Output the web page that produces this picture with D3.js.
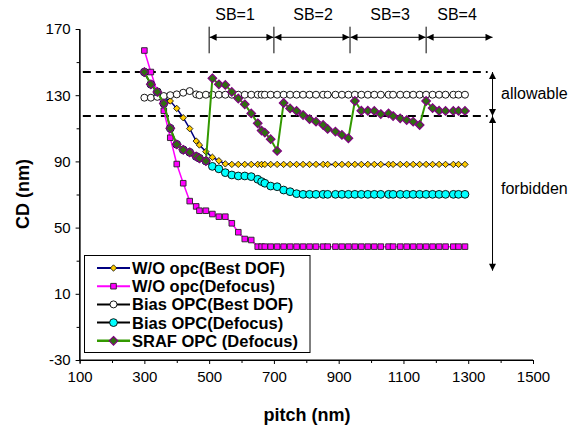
<!DOCTYPE html>
<html><head><meta charset="utf-8">
<script src="https://cdn.jsdelivr.net/npm/d3@7"></script>
<style>body{margin:0;background:#fff}svg{display:block}text{font-family:"Liberation Sans",Arial,sans-serif}</style>
</head><body>
<script>
const pitch = [300,320,340,360,380,400,420,440,460,470,490,510,530,550,570,590,610,630,650,662,672,690,710,730,750,770,790,810,830,852,866,890,910,930,950,970,990,1010,1030,1054,1068,1090,1110,1130,1150,1170,1190,1210,1230,1254,1270,1290];
const fill = (n, v) => Array(n).fill(v);
const woBest = [143,137,131,128.7,126.5,122,116.4,109.8,102.3,99.9,95.9,92.5,90.4,88.5].concat(fill(38,88.2));
const woDef = [157,144,132,120.6,104.3,88.4,76.8,66,62.8,60.2,60.2,58.2,56.6,56.6,52.6,47.2,43.1,42.5,38.5].concat(fill(33,38.5));
const biasBest = [128.5,128.5,129,129.5,130,130.5,131.5,132.5,130.5,130].concat(fill(42,130.3));
const biasDef = [144,136.6,132,125,110,100.3,97,95.5,93,91.9,90.2,87,85.5,83.2,81.8,81.2,81.2,80.8,79.2,77.8,76.8,75.1,74.7,72.7,71.7,70.5].concat(fill(26,70.1));
const sraf = [144,136.6,132,125,110,100.3,97,95.5,93,91.9,90.2,140.2,136.6,136.2,132,128,124.5,119,113,108.6,107.4,103.4,96.3,125.3,122,120.5,118,115.6,114,112,109.6,108,106,104,126.5,120.6,120.6,120.5,118.6,119,117.4,116,115,114,112,126.5,122.2,120.6,120.5,120.5,120.5,120.5];
const seriesNames = ["W/O opc(Best DOF)","W/O opc(Defocus)","Bias OPC(Best DOF)","Bias OPC(Defocus)","SRAF OPC (Defocus)"];
const yTicks = [-30,10,50,90,130,170];
const yMinor = [-10,30,70,110,150];
const xTicks = [100,300,500,700,900,1100,1300,1500];
const xMinor = [200,400,600,800,1000,1200,1400];
const limits = [144,117.5];           // allowable CD window
const sbBounds = [500,700,935,1170];  // scattering bar regions
const sbEnd = 1375;
const sbLabels = ["SB=1","SB=2","SB=3","SB=4"];
const forbiddenBottom = 24;

const W=570,H=430;
const svg=d3.select("body").append("svg").attr("width",W).attr("height",H);
const x=d3.scaleLinear().domain([100,1500]).range([79.6,533]);
const y=d3.scaleLinear().domain([-30,170]).range([360,29]);

// axes
const fmt = d => String(d);
const gy=svg.append("g").attr("transform","translate(79.6,0)");
gy.call(d3.axisLeft(y).tickValues(yTicks).tickSize(4).tickFormat(fmt));
gy.append("g").call(d3.axisLeft(y).tickValues(yMinor).tickSize(3).tickFormat(""));
const gx=svg.append("g").attr("transform","translate(0,360)");
gx.call(d3.axisBottom(x).tickValues(xTicks).tickSize(4).tickFormat(fmt));
gx.append("g").call(d3.axisBottom(x).tickValues(xMinor).tickSize(3).tickFormat(""));
svg.selectAll(".domain").attr("stroke","#000").attr("stroke-width",1);
svg.selectAll(".tick line").attr("stroke","#000");
gy.selectAll(".tick text").attr("font-size",15).attr("fill","#000").attr("x",-9).attr("font-family","Liberation Sans, Arial");
gx.selectAll(".tick text").attr("font-size",15).attr("fill","#000").attr("y",11).attr("font-family","Liberation Sans, Arial");
gy.select(".domain").attr("d","M0,"+y(-30)+"V"+y(170));
gx.select(".domain").attr("d","M"+x(100)+",0H"+x(1500));

svg.append("text").attr("x",307).attr("y",421).attr("text-anchor","middle").attr("font-size",18).attr("font-weight","bold").text("pitch (nm)");
svg.append("text").attr("transform","translate(29,194) rotate(-90)").attr("text-anchor","middle").attr("font-size",18).attr("font-weight","bold").text("CD (nm)");

// dashed limits
limits.forEach(v=>{
  svg.append("line").attr("x1",x(110)).attr("x2",x(1360)).attr("y1",y(v)).attr("y2",y(v))
    .attr("stroke","#000").attr("stroke-width",2).attr("stroke-dasharray","8,5");
});

// arrow defs
const defs=svg.append("defs");
defs.append("marker").attr("id","ah").attr("viewBox","0 0 10 10").attr("refX",10).attr("refY",5)
  .attr("markerWidth",10).attr("markerHeight",7).attr("markerUnits","userSpaceOnUse").attr("orient","auto-start-reverse")
  .append("path").attr("d","M0,0L10,5L0,10Z").attr("fill","#000");
function arrow(x1,y1,x2,y2){
  svg.append("line").attr("x1",x1).attr("y1",y1).attr("x2",x2).attr("y2",y2).attr("stroke","#000").attr("stroke-width",1)
    .attr("marker-start","url(#ah)").attr("marker-end","url(#ah)");
}
// SB annotations
const sbY = 37.3;
sbBounds.forEach(b=>{
  svg.append("line").attr("x1",x(b)).attr("x2",x(b)).attr("y1",26.7).attr("y2",53.3).attr("stroke","#000").attr("stroke-width",1);
});
const sbStops = sbBounds.concat([sbEnd]);
for(let i=0;i<sbBounds.length;i++){
  arrow(x(sbStops[i])+0.5,sbY,x(sbStops[i+1])-(i==sbBounds.length-1?0:0.5),sbY);
}
const sbLabelX=[235,313,390,457];
sbLabels.forEach((t,i)=>{
  svg.append("text").attr("x",sbLabelX[i]).attr("y",20).attr("text-anchor","middle").attr("font-size",16).text(t);
});
// allowable / forbidden
arrow(x(sbEnd),y(limits[0]),x(sbEnd),y(limits[1]));
arrow(x(sbEnd),y(limits[1]),x(sbEnd),y(forbiddenBottom));
svg.append("text").attr("x",501).attr("y",99).attr("font-size",16).text("allowable");
svg.append("text").attr("x",501).attr("y",194).attr("font-size",16).text("forbidden");

// marker shapes
const shapes={
  diamond:r=>`M0,${-r}L${r},0L0,${r}L${-r},0Z`,
  square:r=>`M${-r},${-r}H${r}V${r}H${-r}Z`,
  circle:r=>`M${-r},0A${r},${r} 0 1,0 ${r},0A${r},${r} 0 1,0 ${-r},0Z`
};
const styles=[
  {data:woBest,line:"#000080",lw:1.5,shape:"diamond",r:3.2,fill:"#FFCC00",stroke:"#000",sw:0.8},
  {data:woDef,line:"#FF00FF",lw:1.5,shape:"square",r:2.8,fill:"#FF00FF",stroke:"#222",sw:0.9},
  {data:biasBest,line:"#000",lw:1.5,shape:"circle",r:3.5,fill:"#fff",stroke:"#000",sw:0.9},
  {data:biasDef,line:"#000",lw:1.5,shape:"circle",r:3.9,fill:"#00FFFF",stroke:"#000",sw:0.9},
  {data:sraf,line:"#339900",lw:2,shape:"diamond",r:4.3,fill:"#2F6F10",stroke:"#800080",sw:1.2}
];
const lineGen=d3.line().x(d=>x(d[0])).y(d=>y(d[1]));
styles.forEach(s=>{
  const pts=pitch.map((p,i)=>[p,s.data[i]]);
  const g=svg.append("g");
  g.append("path").attr("d",lineGen(pts)).attr("fill","none").attr("stroke",s.line).attr("stroke-width",s.lw);
  g.selectAll("path.m").data(pts).join("path").attr("class","m")
    .attr("transform",d=>`translate(${x(d[0])},${y(d[1])})`).attr("d",shapes[s.shape](s.r))
    .attr("fill",s.fill).attr("stroke",s.stroke).attr("stroke-width",s.sw);
});

// legend
const lg=svg.append("g");
lg.append("rect").attr("x",84.5).attr("y",255.5).attr("width",225.5).attr("height",97).attr("fill","#fff").attr("stroke","#000").attr("stroke-width",1);
seriesNames.forEach((n,i)=>{
  const s=styles[i], yy=268+i*18.2;
  lg.append("line").attr("x1",97).attr("x2",130).attr("y1",yy).attr("y2",yy).attr("stroke",s.line).attr("stroke-width",s.lw+0.5);
  lg.append("path").attr("transform",`translate(113.5,${yy})`).attr("d",shapes[s.shape](s.r)).attr("fill",s.fill).attr("stroke",s.stroke).attr("stroke-width",s.sw);
  lg.append("text").attr("x",132).attr("y",yy).attr("dy","0.36em").attr("font-size",16.5).attr("font-weight","bold").text(n);
});
</script>
</body></html>
